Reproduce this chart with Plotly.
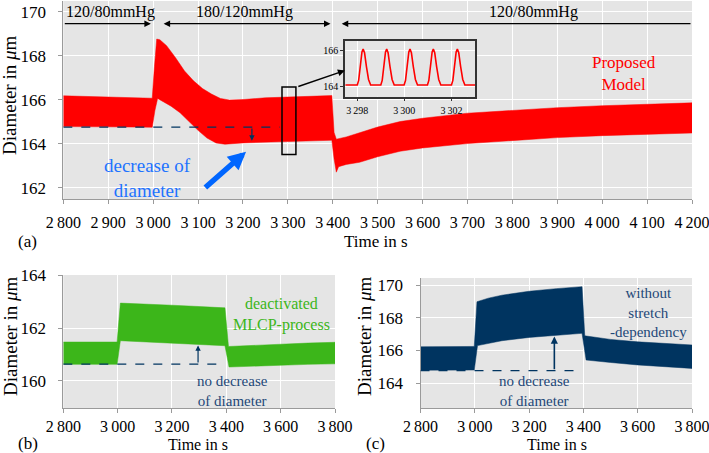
import plotly.graph_objects as go

W, H = 709, 453
FONT = "Liberation Serif"

# ---------------- data ----------------
# (a) proposed model: upper / lower envelope of the pulsating diameter
a_up_t = [2800, 2900, 2998, 3003, 3008, 3015, 3030, 3050, 3070, 3090, 3110, 3130, 3150, 3170, 3200, 3250, 3300, 3350, 3398,
          3403, 3408, 3430, 3460, 3500, 3550, 3600, 3700, 3800, 3900, 4000, 4100, 4200]
a_up_v = [166.17, 166.12, 166.06, 167.5, 168.75, 168.72, 168.45, 167.9, 167.3, 166.85, 166.5, 166.25, 166.05, 165.98, 166.0, 166.08, 166.12, 166.15, 166.18,
          164.5, 164.2, 164.3, 164.5, 164.75, 165.0, 165.15, 165.38, 165.52, 165.63, 165.72, 165.8, 165.85]
a_lo_t = [2800, 2900, 2998, 3004, 3010, 3020, 3040, 3060, 3080, 3100, 3120, 3140, 3160, 3200, 3250, 3300, 3350, 3398,
          3403, 3408, 3413, 3430, 3460, 3500, 3550, 3600, 3700, 3800, 3900, 4000, 4100, 4200]
a_lo_v = [164.77, 164.76, 164.74, 165.5, 166.05, 165.95, 165.7, 165.4, 165.0, 164.6, 164.25, 164.03, 163.97, 164.03, 164.08, 164.1, 164.12, 164.15,
          163.3, 162.7, 162.95, 163.05, 163.15, 163.4, 163.65, 163.8, 164.0, 164.15, 164.27, 164.36, 164.43, 164.48]

# (b) deactivated MLCP-process
b_up_t = [2800, 2998, 3010, 3100, 3200, 3300, 3395, 3408, 3500, 3600, 3700, 3800]
b_up_v = [161.47, 161.47, 162.95, 162.92, 162.87, 162.82, 162.77, 161.3, 161.35, 161.4, 161.43, 161.46]
b_lo_t = [2800, 2998, 3010, 3100, 3200, 3300, 3395, 3410, 3500, 3600, 3700, 3800]
b_lo_v = [160.62, 160.62, 161.52, 161.47, 161.42, 161.38, 161.33, 160.52, 160.56, 160.59, 160.62, 160.64]

# (c) without stretch-dependency
c_up_t = [2800, 2998, 3008, 3050, 3100, 3200, 3300, 3395, 3405, 3450, 3500, 3600, 3700, 3800]
c_up_v = [166.23, 166.25, 168.98, 169.2, 169.38, 169.62, 169.78, 169.9, 166.9, 166.78, 166.68, 166.53, 166.42, 166.34]
c_lo_t = [2800, 2998, 3010, 3050, 3100, 3200, 3300, 3395, 3410, 3450, 3500, 3600, 3700, 3800]
c_lo_v = [164.8, 164.81, 166.3, 166.45, 166.6, 166.8, 166.95, 167.05, 165.42, 165.35, 165.27, 165.12, 165.0, 164.91]

# inset: single cardiac cycles around t = 3300 s
inset_t = [3297.5,
           3298.00, 3298.06, 3298.13, 3298.20, 3298.25, 3298.31, 3298.39, 3298.48, 3298.57,
           3299.00, 3299.06, 3299.13, 3299.20, 3299.25, 3299.31, 3299.39, 3299.48, 3299.57,
           3299.99, 3300.05, 3300.12, 3300.19, 3300.24, 3300.30, 3300.38, 3300.47, 3300.56,
           3300.98, 3301.04, 3301.11, 3301.18, 3301.23, 3301.29, 3301.37, 3301.46, 3301.55,
           3302.00, 3302.06, 3302.13, 3302.20, 3302.25, 3302.31, 3302.39, 3302.48, 3302.57,
           3303.0]
inset_v = [164.1,
           164.1, 164.35, 165.2, 165.9, 166.05, 165.85, 165.1, 164.4, 164.1,
           164.1, 164.35, 165.2, 165.9, 166.05, 165.85, 165.1, 164.4, 164.1,
           164.1, 164.35, 165.2, 165.9, 166.05, 165.85, 165.1, 164.4, 164.1,
           164.1, 164.35, 165.2, 165.9, 166.05, 165.85, 165.1, 164.4, 164.1,
           164.1, 164.35, 165.2, 165.9, 166.05, 165.85, 165.1, 164.4, 164.1,
           164.1]

a_xticks = [2800, 2900, 3000, 3100, 3200, 3300, 3400, 3500, 3600, 3700, 3800, 3900, 4000, 4100, 4200]
a_yticks = [162, 164, 166, 168, 170]
bc_xticks = [2800, 3000, 3200, 3400, 3600, 3800]
b_yticks = [160, 162, 164]
c_yticks = [164, 166, 168, 170]
inset_xticks = [3298, 3300, 3302]
inset_yticks = [164, 166]

phase_labels = ["120/80mmHg", "180/120mmHg", "120/80mmHg"]
phase_label_t = [2904, 3204, 3846]

baseline_a, baseline_b, baseline_c = 164.75, 160.63, 164.77

RED = "rgb(255,0,0)"
GREEN = "rgb(60,182,26)"
NAVY = "rgb(0,52,96)"
TXTNAVY = "rgb(30,72,120)"
BLUE = "rgb(0,102,255)"


def thin(v):
    s = str(v)
    return s[:-3] + "\u2009" + s[-3:] if len(s) > 3 else s


fig = go.Figure()


def band(tu, vu, tl, vl, color, xa, ya):
    fig.add_trace(go.Scatter(x=list(tu) + list(tl)[::-1], y=list(vu) + list(vl)[::-1],
                             fill="toself", fillcolor=color, mode="lines",
                             line=dict(color=color, width=0.5), xaxis=xa, yaxis=ya,
                             hoverinfo="skip", showlegend=False))


band(a_up_t, a_up_v, a_lo_t, a_lo_v, RED, "x", "y")
band(b_up_t, b_up_v, b_lo_t, b_lo_v, GREEN, "x2", "y2")
band(c_up_t, c_up_v, c_lo_t, c_lo_v, NAVY, "x3", "y3")
fig.add_trace(go.Scatter(x=inset_t, y=inset_v, mode="lines", line=dict(color=RED, width=1.6),
                         xaxis="x4", yaxis="y4", hoverinfo="skip", showlegend=False))


def axstyle(size=17):
    return dict(showgrid=True, gridcolor="white", gridwidth=1, zeroline=False, showline=True,
                automargin=False, ticklabeloverflow="allow",
                linecolor="#9a9a9a", linewidth=1, ticks="outside", ticklen=4, tickcolor="#9a9a9a",
                tickfont=dict(family=FONT, size=size, color="black"))


def px(x):
    return x / W


def py(y):
    return 1 - y / H


YSO = 9
fig.update_layout(
    width=W, height=H, autosize=False, margin=dict(l=0, r=0, t=0, b=0, pad=0, autoexpand=False),
    paper_bgcolor="white", plot_bgcolor="rgb(229,229,229)", showlegend=False,
    xaxis=dict(**axstyle(16), domain=[px(63.3), px(692)], range=[2800, 4200], anchor="y",
               tickvals=a_xticks, ticktext=[thin(v) for v in a_xticks], ticklabelstandoff=5),
    yaxis=dict(**axstyle(), domain=[py(199), py(1)], range=[161.48, 170.48], anchor="x",
               tickvals=a_yticks, ticklabelstandoff=YSO),
    xaxis2=dict(**axstyle(16), domain=[px(63.3), px(335)], range=[2800, 3800], anchor="y2",
                tickvals=bc_xticks, ticktext=[thin(v) for v in bc_xticks], ticklabelstandoff=0),
    yaxis2=dict(**axstyle(), domain=[py(408), py(275)], range=[158.96, 164.02], anchor="x2",
                tickvals=b_yticks, ticklabelstandoff=YSO),
    xaxis3=dict(**axstyle(16), domain=[px(420.5), px(692)], range=[2800, 3800], anchor="y3",
                tickvals=bc_xticks, ticktext=[thin(v) for v in bc_xticks], ticklabelstandoff=0),
    yaxis3=dict(**axstyle(), domain=[py(408), py(278)], range=[162.49, 170.43], anchor="x3",
                tickvals=c_yticks, ticklabelstandoff=YSO),
    xaxis4=dict(**axstyle(10), domain=[px(345), px(475)], range=[3297.48, 3303.0], anchor="y4",
                tickvals=inset_xticks, ticktext=[thin(v) for v in inset_xticks], ticklabelstandoff=1),
    yaxis4=dict(**axstyle(10), domain=[py(96.7), py(40.7)], range=[163.46, 166.51], anchor="x4",
                tickvals=inset_yticks, ticklabelstandoff=0),
)
fig.update_xaxes(selector=dict(anchor="y4"), mirror=True, linecolor="#333", linewidth=1.5, ticklen=3,
                 tickcolor="#333")
fig.update_yaxes(selector=dict(anchor="x4"), mirror=True, linecolor="#333", linewidth=1.5, ticklen=3,
                 tickcolor="#333")

shapes = []
ann = []


def text(x, y, s, color="black", size=17, xref="x", yref="y", angle=0):
    ann.append(dict(x=x, y=y, xref=xref, yref=yref, text=s, showarrow=False, textangle=angle,
                    font=dict(family=FONT, size=size, color=color), xanchor="center", yanchor="middle"))


def arrow(x, y, ax, ay, xref, yref, color="black", width=1.3, head=2, size=1.0, side="end"):
    ann.append(dict(x=x, y=y, ax=ax, ay=ay, xref=xref, yref=yref, axref=xref, ayref=yref, text="",
                    showarrow=True, arrowhead=head, arrowsize=size, arrowwidth=width, arrowcolor=color,
                    arrowside=side, startarrowhead=head, startarrowsize=size))


# ---- panel (a) ----
for lab, t in zip(phase_labels, phase_label_t):
    text(t, 169.98, lab, size=16)
arrow(2995, 169.45, 2800, 169.45, "x", "y")
arrow(3395, 169.45, 3020, 169.45, "x", "y", side="end+start")
arrow(3420, 169.45, 4200, 169.45, "x", "y")
shapes.append(dict(type="rect", xref="x", yref="y", x0=3287, x1=3318, y0=163.5, y1=166.57,
                   line=dict(color="black", width=1.5)))
arrow(3427, 167.32, 3320, 166.57, "x", "y", width=1.4)
shapes.append(dict(type="line", xref="x", yref="y", x0=2800, x1=3282, y0=baseline_a, y1=baseline_a,
                   line=dict(color=NAVY, width=1.3, dash="dash")))
arrow(3220, 164.13, 3220, baseline_a, "x", "y", color=NAVY, width=1.2, size=0.9)
text(2987, 162.42, "decrease of<br>diameter", color="rgb(30,115,255)", size=19)
arrow(3207, 163.63, 3113, 161.94, "x", "y", color=BLUE, width=5.5, size=0.65)
text(4049, 167.2, "Proposed<br>Model", color=RED, size=17)

# ---- panel (b) ----
shapes.append(dict(type="line", xref="x2", yref="y2", x0=2800, x1=3382, y0=baseline_b, y1=baseline_b,
                   line=dict(color=NAVY, width=1.3, dash="dash")))
arrow(3296, 161.34, 3296, baseline_b, "x2", "y2", color=NAVY, width=1.2, size=0.9)
text(3603, 162.5, "deactivated<br>MLCP-process", color=GREEN, size=16, xref="x2", yref="y2")
text(3423, 159.62, "no decrease<br>of diameter", color=TXTNAVY, size=15, xref="x2", yref="y2")

# ---- panel (c) ----
shapes.append(dict(type="line", xref="x3", yref="y3", x0=2800, x1=3381, y0=baseline_c, y1=baseline_c,
                   line=dict(color=NAVY, width=1.3, dash="dash")))
arrow(3293, 166.85, 3293, baseline_c, "x3", "y3", color=NAVY, width=1.6, size=0.9)
text(3640, 168.3, "without<br>stretch<br>-dependency", color=TXTNAVY, size=15, xref="x3", yref="y3")
text(3219, 163.55, "no decrease<br>of diameter", color=TXTNAVY, size=15, xref="x3", yref="y3")

# ---- axis titles and panel labels ----
text(px(376), py(241), "Time in s", xref="paper", yref="paper")
text(px(198), py(444), "Time in s", xref="paper", yref="paper", size=16)
text(px(557), py(444), "Time in s", xref="paper", yref="paper", size=16)
text(px(27), py(241), "(a)", xref="paper", yref="paper")
text(px(28), py(443), "(b)", xref="paper", yref="paper")
text(px(376), py(443), "(c)", xref="paper", yref="paper")
text(px(10), py(95), "Diameter in <i>μ</i>m", xref="paper", yref="paper", angle=-90, size=19)
text(px(10), py(336), "Diameter in <i>μ</i>m", xref="paper", yref="paper", angle=-90, size=19)
text(px(364), py(336), "Diameter in <i>μ</i>m", xref="paper", yref="paper", angle=-90, size=19)

fig.update_layout(shapes=shapes, annotations=ann)

fig.write_html("out.html", config={"displayModeBar": False},
               post_script="document.body.style.margin='0';")
